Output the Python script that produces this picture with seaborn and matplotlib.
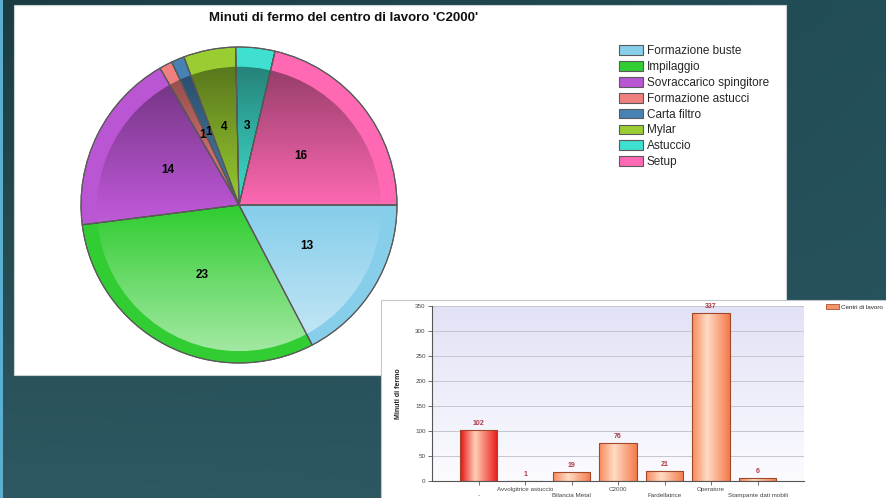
import numpy as np
import matplotlib
matplotlib.use("Agg")
import matplotlib.pyplot as plt
import seaborn as sns
import pandas as pd
from matplotlib.patches import Rectangle, Circle, Patch
from matplotlib.colors import to_rgb
from matplotlib import font_manager

# ---------------- data ----------------
pie_title = "Minuti di fermo del centro di lavoro 'C2000'"
pie_labels = ["Formazione buste", "Impilaggio", "Sovraccarico spingitore",
              "Formazione astucci", "Carta filtro", "Mylar", "Astuccio", "Setup"]
pie_values = [13, 23, 14, 1, 1, 4, 3, 16]
pie_colors = ["#87CEEB", "#32CD32", "#BA55D3", "#F08080",
              "#4682B4", "#9ACD32", "#40E0D0", "#FF69B4"]

bar_categories = ["-", "Avvolgitrice astuccio", "Bilancia Metal", "C2000",
                  "Fardellatrice", "Operatore", "Stampante dati mobili"]
bar_values = [102, 1, 19, 76, 21, 337, 6]
bar_series = "Centri di lavoro"
bar_ylabel = "Minuti di fermo"
bar_yticks = [0, 50, 100, 150, 200, 250, 300, 350]

# ---------------- setup ----------------
sns.set_style("white")
names = {f.name for f in font_manager.fontManager.ttflist}
base_font = "Liberation Sans" if "Liberation Sans" in names else "DejaVu Sans"
title_font = "Liberation Sans Narrow" if "Liberation Sans Narrow" in names else base_font
plt.rcParams["font.family"] = [base_font, "DejaVu Sans"]

W, H = 886, 498
fig = plt.figure(figsize=(W / 100, H / 100), dpi=100)


def fx(x):
    return x / W


def fy(y):
    return 1 - y / H


def rect(x0, y0, x1, y1):
    return [x0 / W, 1 - y1 / H, (x1 - x0) / W, (y1 - y0) / H]


# ---------------- background ----------------
ax_bg = fig.add_axes([0, 0, 1, 1])
ax_bg.set_zorder(-5)
ax_bg.set_axis_off()
tl, tr = np.array(to_rgb("#1c3c43")), np.array(to_rgb("#224e58"))
bl, br = np.array(to_rgb("#2e5962")), np.array(to_rgb("#2a5560"))
ny, nx = 60, 90
yy, xx = np.mgrid[0:1:ny * 1j, 0:1:nx * 1j]
bg = (tl[None, None] * ((1 - yy) * (1 - xx))[..., None] + tr[None, None] * ((1 - yy) * xx)[..., None]
      + bl[None, None] * (yy * (1 - xx))[..., None] + br[None, None] * (yy * xx)[..., None])
ax_bg.imshow(bg, extent=(0, 1, 0, 1), aspect="auto", interpolation="bilinear")
ax_bg.set_xlim(0, 1)
ax_bg.set_ylim(0, 1)
ax_bg.add_patch(Rectangle((0, 0), fx(3), 1, transform=ax_bg.transAxes,
                          facecolor="#5aaed0", edgecolor="none", zorder=3))

# panels (drawn inside the background axes so they sit below the charts)
r1 = rect(14, 5, 786, 375)
ax_bg.add_patch(Rectangle((r1[0], r1[1]), r1[2], r1[3], transform=ax_bg.transAxes,
                          facecolor="white", edgecolor="#c9d2d4", linewidth=0.8, zorder=4))
r2 = rect(381, 300, 890, 502)
ax_bg.add_patch(Rectangle((r2[0], r2[1]), r2[2], r2[3], transform=ax_bg.transAxes,
                          facecolor="white", edgecolor="#c0c8cc", linewidth=0.8, zorder=5))

# ---------------- pie ----------------
R = 158
cx, cy = 239, 205
half = 172
ax_pie = fig.add_axes(rect(cx - half, cy - half, cx + half, cy + half))
total = sum(pie_values)
wedges, _, autotexts = ax_pie.pie(
    pie_values, colors=pie_colors, startangle=0, counterclock=False, radius=1,
    autopct=lambda p: f"{p * total / 100:.0f}", pctdistance=0.5,
    wedgeprops=dict(edgecolor="#5a5a5a", linewidth=0.8),
    textprops=dict(fontsize=8.5, fontweight="bold", color="black"))

# inner shading gradient (dark on top, light at bottom)
n = 256
grad = np.zeros((n, 1, 4))
for i in range(n):
    t = i / (n - 1)
    if t < 0.5:
        grad[i, 0] = (0, 0, 0, 0.42 * (1 - 2 * t))
    else:
        grad[i, 0] = (1, 1, 1, 0.55 * (2 * t - 1))
im = ax_pie.imshow(grad, extent=(-0.9, 0.9, -0.925, 0.875), aspect="auto",
                   interpolation="bilinear", zorder=1.5)
im.set_clip_path(Circle((0, -0.025), 0.9, transform=ax_pie.transData))
ax_pie.pie(pie_values, colors=["none"] * len(pie_values), startangle=0,
           counterclock=False, radius=1,
           wedgeprops=dict(edgecolor="#5a5a5a", linewidth=0.8, zorder=2))
for t in autotexts:
    t.set_zorder(5)
L = half / R
ax_pie.set_xlim(-L, L)
ax_pie.set_ylim(-L, L)
ax_pie.set_aspect("equal")
ax_pie.set_axis_off()

fig.text(fx(344), fy(18), pie_title, ha="center", va="center", fontsize=9.5,
         fontweight="bold", family=[title_font, "DejaVu Sans"], color="#111111")

leg = ax_pie.legend(wedges, pie_labels, loc="upper left",
                    bbox_to_anchor=(fx(619), fy(45)), bbox_transform=fig.transFigure,
                    frameon=False, fontsize=8.5, handlelength=2.0, handleheight=0.9,
                    handletextpad=0.35, labelspacing=0.33, borderpad=0, borderaxespad=0)

# ---------------- bar chart ----------------
ax_bar = fig.add_axes(rect(432, 306, 804, 481))
df = pd.DataFrame({"cat": bar_categories, "val": bar_values})
sns.barplot(data=df, x="cat", y="val", ax=ax_bar, color="#ff9966", width=0.8,
            edgecolor="#a04828", linewidth=0.8, saturation=1)

# plot area gradient
pg = np.zeros((64, 1, 3))
top, bot = np.array(to_rgb("#e2e2f6")), np.array(to_rgb("#fbfbff"))
for i in range(64):
    t = i / 63
    pg[i, 0] = top * (1 - t) + bot * t
ax_bar.imshow(pg, extent=(0, 1, 0, 1), transform=ax_bar.transAxes, aspect="auto",
              interpolation="bilinear", zorder=0)

for i, p in enumerate(ax_bar.patches):
    x0, w, h = p.get_x(), p.get_width(), p.get_height()
    if i == 0:
        ce, cl, cr = to_rgb("#e41010"), to_rgb("#ffd0b8"), to_rgb("#e81818")
    else:
        ce, cl, cr = to_rgb("#f88a5c"), to_rgb("#ffdcc4"), to_rgb("#f47a4c")
    m = 100
    arr = np.zeros((1, m, 3))
    for j in range(m):
        t = j / (m - 1)
        if t < 0.4:
            s = t / 0.4
            arr[0, j] = np.array(ce) * (1 - s) + np.array(cl) * s
        else:
            s = (t - 0.4) / 0.6
            arr[0, j] = np.array(cl) * (1 - s) + np.array(cr) * s
    bim = ax_bar.imshow(arr, extent=(x0, x0 + w, 0, h), aspect="auto",
                        interpolation="bilinear", zorder=2)
    bim.set_clip_path(p)
    p.set_facecolor("none")
    p.set_zorder(3)

ax_bar.bar_label(ax_bar.containers[0], labels=[str(v) for v in bar_values],
                 padding=2, fontsize=5, color="#b03a48", fontweight="bold")

ax_bar.set_xlim(-1, len(bar_categories))
ax_bar.set_ylim(0, 350)
ax_bar.set_yticks(bar_yticks)
ax_bar.set_xticks(range(len(bar_categories)))
ax_bar.set_xticklabels([("\n" + c) if i % 2 == 0 else c for i, c in enumerate(bar_categories)],
                       linespacing=1.3)
ax_bar.set_axisbelow(True)
ax_bar.yaxis.grid(True, color="#c6c6d0", linewidth=0.7)
ax_bar.xaxis.grid(False)
for s in ["top", "right"]:
    ax_bar.spines[s].set_visible(False)
for s in ["left", "bottom"]:
    ax_bar.spines[s].set_color("#555555")
    ax_bar.spines[s].set_linewidth(0.8)
ax_bar.tick_params(axis="both", labelsize=4.5, colors="#555555", labelcolor="#444444",
                   length=3, width=0.6, direction="out", left=True, bottom=True, pad=1.5)
ax_bar.set_xlabel("")
ax_bar.set_ylabel(bar_ylabel, fontsize=5, fontweight="bold", color="#222222")
ax_bar.yaxis.set_label_coords(-0.08, 0.5)

fig.legend(handles=[Patch(facecolor="#f4946a", edgecolor="#b05030", linewidth=0.6,
                          label=bar_series)],
           loc="upper left", bbox_to_anchor=(fx(826), fy(304)), frameon=False,
           fontsize=4.5, handlelength=2.0, handleheight=0.9, handletextpad=0.4,
           borderpad=0, borderaxespad=0)

fig.savefig("out.png", dpi=100)
